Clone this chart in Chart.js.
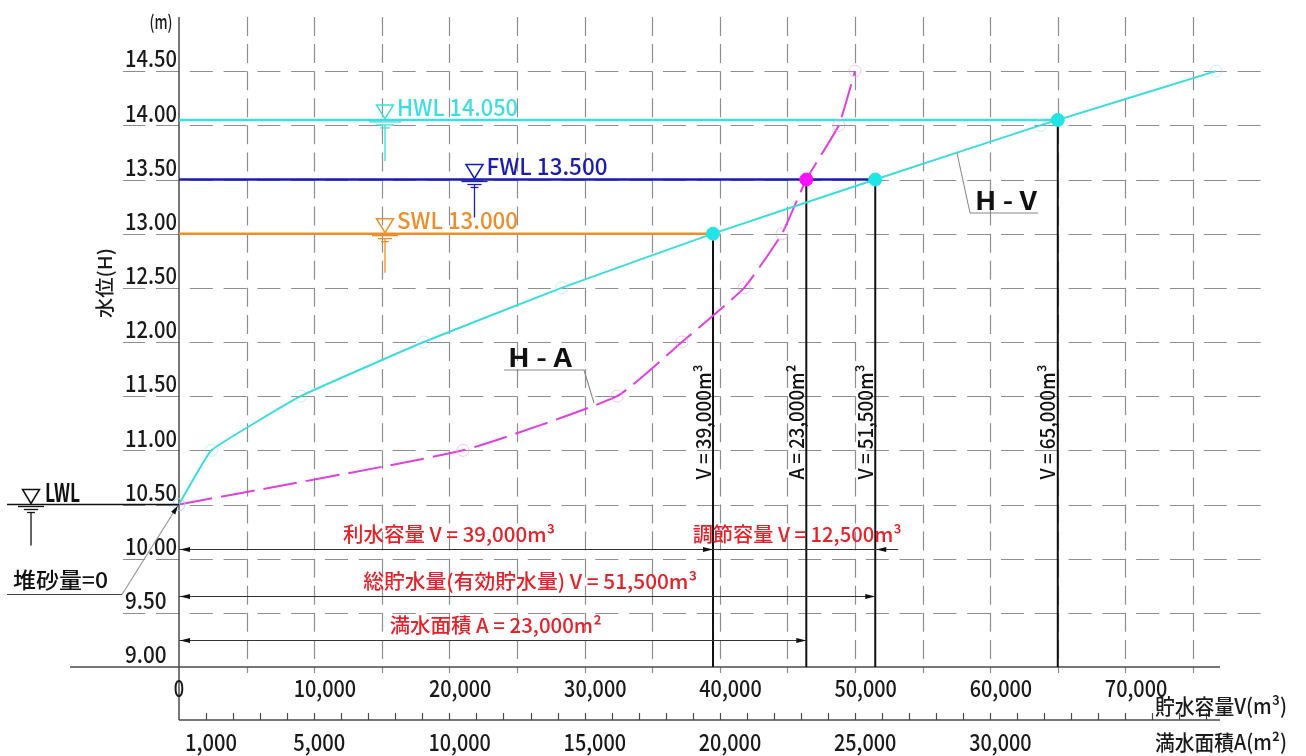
<!DOCTYPE html>
<html>
<head>
<meta charset="utf-8">
<script src="https://cdn.jsdelivr.net/npm/chart.js@4.4.0/dist/chart.umd.min.js"></script>
<style>
  html, body { margin: 0; padding: 0; background: #fff; }
  #wrap { width: 1306px; height: 756px; position: relative; }
</style>
</head>
<body>
<div id="wrap"><canvas id="hvChart"></canvas></div>
<script>
// water level H (m) with storage V (m3) and surface area A (m2)
var levelH  = [10.5, 11.0, 11.5, 12.0, 12.5, 13.0, 13.5, 14.0, 14.5];
var volumeV = [0, 2400, 9000, 18100, 28300, 39500, 51500, 63700, 76700];
var areaA   = [0, 10500, 16200, 18600, 20900, 22300, 23200, 24400, 25000];

// design water levels
var wlNames  = ['HWL 14.050', 'FWL 13.500', 'SWL 13.000'];
var wlH      = [14.05, 13.5, 13.0];
var wlV      = [65000, 51500, 39500];
var wlColors = ['#3fdede', '#1c1cb0', '#eb8f2c'];
var lwlH = 10.5;

// picked points on the curves
var pickV     = [39500, 51500, 65000];
var pickVH    = [13.0, 13.5, 14.05];
var pickVText = ['V = 39,000m³', 'V = 51,500m³', 'V = 65,000m³'];
var pickA     = [23200];
var pickAH    = [13.5];
var pickAText = ['A = 23,000m²'];

// dimension lines (capacity notes)
var dimText = ['利水容量 V = 39,000m³', '総貯水量(有効貯水量) V = 51,500m³', '満水面積 A = 23,000m²'];
var dimH    = [10.09, 9.655, 9.25];
var dimEnd  = [39500, 51500, 23200];
var dimAxis = ['x', 'x', 'xA'];
var regText = '調節容量 V = 12,500m³';

// axis ticks
var hTicks = [9.0, 9.5, 10.0, 10.5, 11.0, 11.5, 12.0, 12.5, 13.0, 13.5, 14.0, 14.5];
var vTicks = [0, 10000, 20000, 30000, 40000, 50000, 60000, 70000];
var aTicks = [1000, 5000, 10000, 15000, 20000, 25000, 30000];

var FONT = '"Noto Sans CJK JP", "Noto Sans", sans-serif';

function label(ctx, s, x, y, size, color, o) {
  o = o || {};
  ctx.save();
  ctx.font = (o.bold ? 'bold ' : '500 ') + size + 'px ' + FONT;
  ctx.fillStyle = color;
  ctx.textBaseline = 'middle';
  ctx.textAlign = 'left';
  ctx.translate(x, y);
  if (o.rot) ctx.rotate(o.rot);
  var w = ctx.measureText(s).width;
  var sx = o.w ? o.w / w : 0.85;
  ctx.scale(sx, 1);
  var dx = o.align === 'right' ? -w : (o.align === 'left' ? 0 : -w / 2);
  ctx.fillText(s, dx, 0);
  ctx.restore();
}

function seg(ctx, x1, y1, x2, y2) {
  ctx.beginPath(); ctx.moveTo(x1, y1); ctx.lineTo(x2, y2); ctx.stroke();
}

function arrow(ctx, tx, ty, dir) {
  // dir -1 tip points left, +1 tip points right
  ctx.beginPath();
  ctx.moveTo(tx, ty);
  ctx.lineTo(tx - dir * 10, ty - 2.5);
  ctx.lineTo(tx - dir * 10, ty + 2.5);
  ctx.closePath();
  ctx.fill();
}

function wlMark(ctx, cx, yl, color, wide, stemTop, stemBot) {
  ctx.save();
  ctx.strokeStyle = color;
  ctx.lineWidth = 1.5;
  ctx.beginPath();
  ctx.moveTo(cx - 8.5, yl - 15);
  ctx.lineTo(cx + 8.5, yl - 15);
  ctx.lineTo(cx, yl - 1);
  ctx.closePath();
  ctx.stroke();
  ctx.lineWidth = 1.3;
  seg(ctx, cx - wide, yl + 2, cx + wide, yl + 2);
  seg(ctx, cx - wide * 0.55, yl + 5, cx + wide * 0.55, yl + 5);
  seg(ctx, cx - wide * 0.3, yl + 8, cx + wide * 0.3, yl + 8);
  seg(ctx, cx, stemTop, cx, stemBot);
  ctx.restore();
}

var drawingPlugin = {
  id: 'drawing',
  beforeDatasetsDraw: function(chart) {
    var ctx = chart.ctx, area = chart.chartArea;
    var x = chart.scales.x, a = chart.scales.xA, y = chart.scales.y;
    ctx.save();
    // dashed grid
    ctx.strokeStyle = '#8e8e8e';
    ctx.lineWidth = 1.2;
    var L = area.left - 56, R = area.right + 42;
    var per = x.getPixelForValue(2500) - x.getPixelForValue(0);
    ctx.setLineDash([per * 0.68, per * 0.32]);
    ctx.lineDashOffset = ((per * 0.68 - (area.left - L)) % per + per) % per;
    for (var h = 9.5; h <= 14.51; h += 0.5) {
      var py = Math.round(y.getPixelForValue(h)) + 0.5;
      seg(ctx, L, py, R, py);
    }
    var perY = y.getPixelForValue(14.75) - y.getPixelForValue(15);
    ctx.setLineDash([perY * 0.7, perY * 0.3]);
    ctx.lineDashOffset = 0;
    for (var v = 5000; v <= 75000; v += 5000) {
      var px = Math.round(x.getPixelForValue(v)) + 0.5;
      seg(ctx, px, area.top, px, area.bottom);
    }
    ctx.setLineDash([]);
    for (v = 5000; v <= 75000; v += 5000) {
      px = Math.round(x.getPixelForValue(v)) + 0.5;
      seg(ctx, px, area.bottom, px, area.bottom + 6);
    }
    // axes
    ctx.strokeStyle = '#4a4a4a';
    ctx.lineWidth = 1.5;
    var axB = area.bottom + 53;
    seg(ctx, area.left, area.top, area.left, axB);
    seg(ctx, area.left - 109, area.bottom, area.right, area.bottom);
    seg(ctx, area.left, axB, area.right, axB);
    ctx.lineWidth = 1.2;
    for (var t = 1000; t <= 38000; t += 1000) {
      var ax = Math.round(a.getPixelForValue(t)) + 0.5;
      seg(ctx, ax, axB - 7, ax, axB);
    }
    ctx.restore();
  },
  afterDatasetsDraw: function(chart) {
    var ctx = chart.ctx, area = chart.chartArea;
    var x = chart.scales.x, a = chart.scales.xA, y = chart.scales.y;
    var axB = area.bottom + 53;
    var ink = '#1a1a1a';

    // tick labels
    hTicks.forEach(function(h) {
      var s = h.toFixed(2);
      label(ctx, s, 125, y.getPixelForValue(h) - 12.5, 23, ink, {align: 'left', w: s.length * 10.4});
    });
    vTicks.forEach(function(v) {
      var s = v.toLocaleString('en-US');
      if (v === 0) label(ctx, s, x.getPixelForValue(0), area.bottom + 21, 23, ink, {w: 10.4});
      else label(ctx, s, x.getPixelForValue(v) - 20.5, area.bottom + 21, 23, ink, {align: 'left', w: s.length * 10.4});
    });
    aTicks.forEach(function(v) {
      var s = v.toLocaleString('en-US');
      label(ctx, s, a.getPixelForValue(v) - 21, axB + 22, 23, ink, {align: 'left', w: s.length * 10.4});
    });

    // axis titles
    label(ctx, '(m)', 161, 22, 19, ink, {w: 23});
    label(ctx, '水位(H)', 105, 283, 19, ink, {w: 70, rot: -Math.PI / 2});
    label(ctx, '貯水容量V(m³)', 1155, area.bottom + 39, 21, ink, {align: 'left', w: 132});
    label(ctx, '満水面積A(m²)', 1155, axB + 22, 21, ink, {align: 'left', w: 132});

    // water level marks
    var wlCx = [385, 474.5, 385];
    var wlWide = [16, 13, 13];
    var stemLen = [36, 33, 34];
    wlH.forEach(function(h, i) {
      var yl = y.getPixelForValue(h);
      wlMark(ctx, wlCx[i], yl, wlColors[i], wlWide[i], yl + 5, yl + 5 + stemLen[i]);
      label(ctx, wlNames[i], wlCx[i] + 12, yl - 13, 23, wlColors[i], {align: 'left', w: 121});
    });

    // LWL
    ctx.save();
    var yL = y.getPixelForValue(lwlH);
    ctx.strokeStyle = '#111';
    ctx.lineWidth = 1.6;
    seg(ctx, 7, yL, area.left, yL);
    ctx.restore();
    wlMark(ctx, 31, yL, '#111', 13, yL + 8, yL + 41);
    label(ctx, 'LWL', 45, yL - 12, 25, '#111', {bold: true, align: 'left', w: 35});

    // sediment note with leader
    label(ctx, '堆砂量=0', 13, 580, 22, '#111', {align: 'left', w: 95});
    ctx.save();
    ctx.strokeStyle = '#444';
    ctx.lineWidth = 1.2;
    seg(ctx, 7, 594.5, 122, 594.5);
    ctx.strokeStyle = '#999';
    seg(ctx, 122, 594.5, area.left - 3, yL + 4);
    ctx.fillStyle = '#111';
    ctx.translate(area.left - 1, yL + 1);
    ctx.rotate(Math.atan2(yL + 4 - 594.5, area.left - 3 - 122));
    ctx.beginPath(); ctx.moveTo(0, 0); ctx.lineTo(-9, -2.5); ctx.lineTo(-9, 2.5); ctx.closePath(); ctx.fill();
    ctx.restore();

    // labels along the drop lines
    pickV.forEach(function(v, i) {
      label(ctx, pickVText[i], x.getPixelForValue(v) - 10, 422, 20, '#111', {w: 115, rot: -Math.PI / 2});
    });
    pickA.forEach(function(v, i) {
      label(ctx, pickAText[i], a.getPixelForValue(v) - 10, 422, 20, '#111', {w: 115, rot: -Math.PI / 2});
    });

    // dimension lines
    ctx.save();
    ctx.strokeStyle = '#333';
    ctx.fillStyle = '#111';
    ctx.lineWidth = 1.2;
    var dimW = [212, 334, 212];
    dimH.forEach(function(h, i) {
      var py = Math.round(y.getPixelForValue(h)) + 0.5;
      var sc = dimAxis[i] === 'xA' ? a : x;
      var xe = sc.getPixelForValue(dimEnd[i]);
      var xr = i === 0 ? x.getPixelForValue(pickV[1]) + 23 : xe;
      seg(ctx, area.left, py, xr, py);
      arrow(ctx, area.left + 1, py, -1);
      arrow(ctx, xe, py, 1);
      label(ctx, dimText[i], (area.left + xe) / 2 + 3, py - 15, 20, '#e3222b', {w: dimW[i]});
      if (i === 0) {
        var x2 = x.getPixelForValue(pickV[1]);
        arrow(ctx, x2 + 1, py, -1);
        label(ctx, regText, (xe + x2) / 2 + 3, py - 15, 20, '#e3222b', {w: 209});
      }
    });
    ctx.restore();

    // curve tags
    ctx.save();
    ctx.strokeStyle = '#8a8a8a';
    ctx.fillStyle = '#8a8a8a';
    ctx.lineWidth = 1.1;
    seg(ctx, 970, 213, 1038, 213);
    seg(ctx, 970, 213, 957, 153);
    seg(ctx, 504, 370, 584, 370);
    seg(ctx, 584, 370, 594, 403);
    ctx.restore();
    label(ctx, 'H - V', 1006, 200, 26, '#111', {bold: true, w: 62});
    label(ctx, 'H - A', 540, 357, 26, '#111', {bold: true, w: 64});
  }
};

var datasets = [];
// filled points
datasets.push({
  data: pickV.map(function(v, i) { return {x: v, y: pickVH[i]}; }),
  xAxisID: 'x', yAxisID: 'y', showLine: false,
  pointRadius: 6.5, pointBackgroundColor: '#22e4e4', pointBorderColor: '#22e4e4', order: 0
});
datasets.push({
  data: pickA.map(function(v, i) { return {x: v, y: pickAH[i]}; }),
  xAxisID: 'xA', yAxisID: 'y', showLine: false,
  pointRadius: 6.5, pointBackgroundColor: '#ff10ff', pointBorderColor: '#ff10ff', order: 0
});
// H-V curve
datasets.push({
  data: volumeV.map(function(v, i) { return {x: v, y: levelH[i]}; }),
  xAxisID: 'x', yAxisID: 'y', showLine: true, tension: 0.1,
  borderColor: '#3ddcdc', borderWidth: 2, clip: 10,
  pointRadius: 6, pointBorderWidth: 1, pointBorderColor: 'rgba(150,225,235,0.55)', pointBackgroundColor: 'rgba(0,0,0,0)',
  order: 1
});
// H-A curve
datasets.push({
  data: areaA.map(function(v, i) { return {x: v, y: levelH[i]}; }),
  xAxisID: 'xA', yAxisID: 'y', showLine: true, tension: 0.15,
  borderColor: '#e040e0', borderWidth: 2, borderDash: [34, 9], clip: 10,
  pointRadius: 6, pointBorderWidth: 1, pointBorderColor: 'rgba(230,160,230,0.6)', pointBackgroundColor: 'rgba(0,0,0,0)',
  order: 1
});
// water level lines
wlH.forEach(function(h, i) {
  datasets.push({
    data: [{x: 0, y: h}, {x: wlV[i], y: h}],
    xAxisID: 'x', yAxisID: 'y', showLine: true,
    borderColor: wlColors[i], borderWidth: 2.5, pointRadius: 0, order: 2
  });
});
// drop lines
pickV.forEach(function(v, i) {
  datasets.push({
    data: [{x: v, y: pickVH[i]}, {x: v, y: 9}],
    xAxisID: 'x', yAxisID: 'y', showLine: true,
    borderColor: '#111', borderWidth: 2, pointRadius: 0, order: 3
  });
});
pickA.forEach(function(v, i) {
  datasets.push({
    data: [{x: v, y: pickAH[i]}, {x: v, y: 9}],
    xAxisID: 'xA', yAxisID: 'y', showLine: true,
    borderColor: '#111', borderWidth: 2, pointRadius: 0, order: 3
  });
});

var ctx = document.getElementById('hvChart').getContext('2d');
var hvChart = new Chart(ctx, {
  type: 'scatter',
  data: { datasets: datasets },
  options: {
    responsive: true,
    maintainAspectRatio: false,
    devicePixelRatio: 1,
    animation: false,
    layout: { padding: { left: 179, right: 86, top: 17, bottom: 89 } },
    plugins: { legend: { display: false }, tooltip: { enabled: false } },
    scales: {
      x:  { type: 'linear', min: 0, max: 77000, display: false },
      xA: { type: 'linear', min: 0, max: 38500, display: false, position: 'bottom' },
      y:  { type: 'linear', min: 9, max: 15, display: false }
    }
  },
  plugins: [drawingPlugin]
});
</script>
</body>
</html>
